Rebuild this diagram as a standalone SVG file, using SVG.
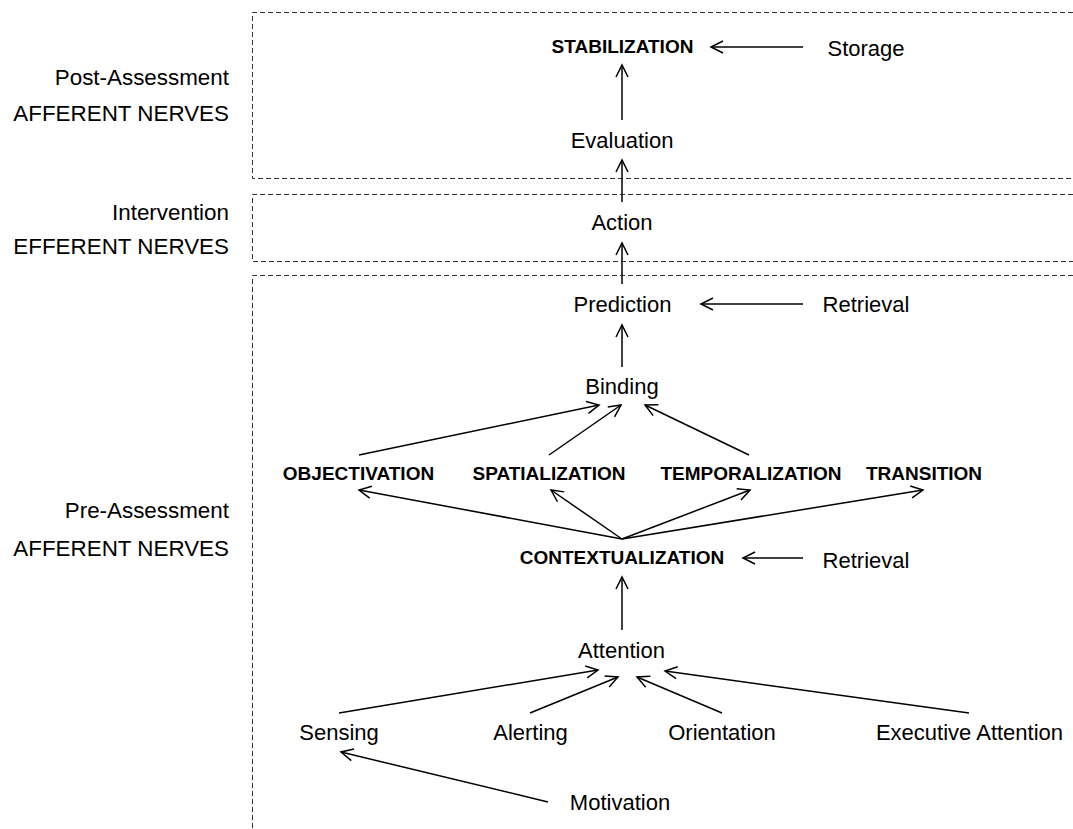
<svg xmlns="http://www.w3.org/2000/svg" width="1073" height="829" viewBox="0 0 1073 829">
<style>
  text { font-family: "Liberation Sans", Arial, sans-serif; fill: #000; }
  .n { font-size: 22px; text-anchor: middle; }
  .b { font-size: 19px; font-weight: bold; text-anchor: middle; }
  .lbl { font-size: 22.4px; text-anchor: end; }
  .zone { fill: none; stroke: #333; stroke-width: 1; stroke-dasharray: 5 3; }
  .e { fill: none; stroke: #000; stroke-width: 1.5; marker-end: url(#ah); }
</style>
<defs>
  <marker id="ah" markerUnits="userSpaceOnUse" markerWidth="16" markerHeight="14" refX="0" refY="0" viewBox="-14 -7 16 14" orient="auto" overflow="visible">
    <path d="M-12,-6 L0,0 L-12,6" fill="none" stroke="#000" stroke-width="1.5"/>
  </marker>
</defs>

<g id="zones">
  <path class="zone" d="M1073,12.5 H252.5 V178.5 H1073"/>
  <path class="zone" d="M1073,194.5 H252.5 V261.5 H1073"/>
  <path class="zone" d="M1073,275.5 H252.5 V829"/>
</g>

<g id="zone-labels">
  <text class="lbl" x="229" y="85">Post-Assessment</text>
  <text class="lbl" x="229" y="121">AFFERENT NERVES</text>
  <text class="lbl" x="229" y="220">Intervention</text>
  <text class="lbl" x="229" y="254">EFFERENT NERVES</text>
  <text class="lbl" x="229" y="518">Pre-Assessment</text>
  <text class="lbl" x="229" y="556">AFFERENT NERVES</text>
</g>

<g id="connectors">
  <line class="e" x1="803" y1="47" x2="711" y2="47"/>
  <line class="e" x1="622" y1="120" x2="622" y2="65"/>
  <line class="e" x1="622" y1="202" x2="622" y2="160"/>
  <line class="e" x1="622" y1="284" x2="622" y2="243"/>
  <line class="e" x1="803" y1="304" x2="701" y2="304"/>
  <line class="e" x1="622" y1="367" x2="622" y2="325"/>
  <line class="e" x1="359" y1="455" x2="599" y2="405"/>
  <line class="e" x1="549" y1="455" x2="621" y2="405"/>
  <line class="e" x1="749" y1="455" x2="645" y2="405"/>
  <line class="e" x1="622" y1="539" x2="359" y2="490"/>
  <line class="e" x1="622" y1="539" x2="551" y2="490"/>
  <line class="e" x1="622" y1="539" x2="750" y2="490"/>
  <line class="e" x1="622" y1="539" x2="923" y2="490"/>
  <line class="e" x1="803" y1="558" x2="743" y2="558"/>
  <line class="e" x1="622" y1="630" x2="622" y2="577"/>
  <line class="e" x1="339" y1="713" x2="598" y2="670"/>
  <line class="e" x1="530" y1="713" x2="618" y2="677"/>
  <line class="e" x1="722" y1="713" x2="637" y2="677"/>
  <line class="e" x1="969" y1="713" x2="665" y2="671"/>
  <line class="e" x1="548" y1="802" x2="341" y2="752"/>
</g>

<g id="stabilization"><text class="b" x="622.5" y="53">STABILIZATION</text></g>
<g id="storage"><text class="n" x="866" y="56">Storage</text></g>
<g id="evaluation"><text class="n" x="622" y="148">Evaluation</text></g>
<g id="action"><text class="n" x="622" y="230">Action</text></g>
<g id="prediction"><text class="n" x="622.5" y="312">Prediction</text></g>
<g id="retrieval-1"><text class="n" x="866" y="312">Retrieval</text></g>
<g id="binding"><text class="n" x="622" y="394">Binding</text></g>
<g id="objectivation"><text class="b" x="358.5" y="480">OBJECTIVATION</text></g>
<g id="spatialization"><text class="b" x="549" y="480">SPATIALIZATION</text></g>
<g id="temporalization"><text class="b" x="751" y="480">TEMPORALIZATION</text></g>
<g id="transition"><text class="b" x="924" y="480">TRANSITION</text></g>
<g id="contextualization"><text class="b" x="622" y="564">CONTEXTUALIZATION</text></g>
<g id="retrieval-2"><text class="n" x="866" y="568">Retrieval</text></g>
<g id="attention"><text class="n" x="621.5" y="658">Attention</text></g>
<g id="sensing"><text class="n" x="339" y="740">Sensing</text></g>
<g id="alerting"><text class="n" x="530.5" y="740">Alerting</text></g>
<g id="orientation"><text class="n" x="722" y="740">Orientation</text></g>
<g id="executive-attention"><text class="n" x="969.5" y="740">Executive Attention</text></g>
<g id="motivation"><text class="n" x="620" y="810">Motivation</text></g>
</svg>
